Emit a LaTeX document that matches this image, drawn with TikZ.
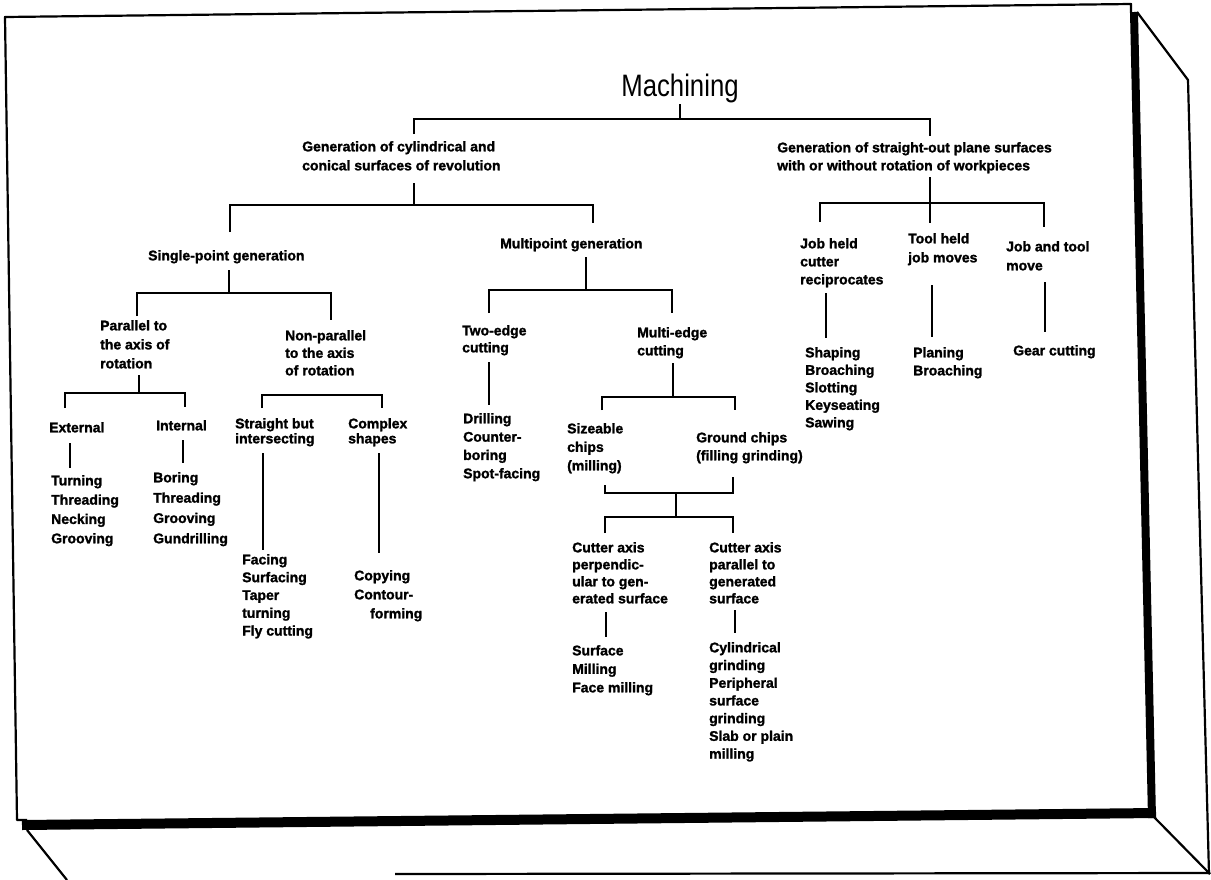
\documentclass[tikz,border=0pt]{standalone}
\usepackage{fontspec}
\setmainfont{Liberation Sans}[BoldFeatures={FakeBold=1.5}]
\begin{document}
\begin{tikzpicture}[x=1pt,y=-1pt,
  lbl/.style={font=\fontsize{14}{#1}\selectfont\bfseries, align=left, inner sep=0pt, anchor=north west},
  lbl/.default=18,
  ln/.style={line width=1.6pt},
  edge/.style={line width=2.2pt, line join=round},
  heavy/.style={line width=#1}]
\useasboundingbox (0,0) rectangle (1211,879);
\fill[white] (0,0) rectangle (1211,879);

% ---------- board frame ----------
\draw[edge] (1131,13) -- (1131,4) -- (5,17) -- (17,820) -- (27,820);
\draw[heavy=8pt] (1134,12) -- (1152,818);
\draw[heavy=10pt] (22,825) -- (1156,813);
\draw[edge] (1137,12) -- (1188,80) -- (1209,874);
\draw[edge] (1153,816) -- (1210,874);
\draw[edge] (27,830) -- (67,880);
\draw[edge] (395,874) -- (1210,873);

% ---------- texts ----------
\node[anchor=base, inner sep=0pt, font=\fontsize{31}{31}\selectfont] (mach) at (680,96) {\scalebox{0.83}[1]{Machining}};

\node[lbl=19] (gen1) at (302,141) {Generation of cylindrical and\\conical surfaces of revolution};
\node[lbl=18] (gen2) at (777,142) {Generation of straight-out plane surfaces\\with or without rotation of workpieces};

\node[lbl] (sp) at (148,250) {Single-point generation};
\node[lbl] (mp) at (500,238) {Multipoint generation};

\node[lbl=19] (par) at (100,320) {Parallel to\\the axis of\\rotation};
\node[lbl=17.5] (np) at (285,330) {Non-parallel\\to the axis\\of rotation};

\node[lbl] (ext) at (49,422) {External};
\node[lbl] (int) at (156,420) {Internal};
\node[lbl=19.3] (extl) at (51,475) {Turning\\Threading\\Necking\\Grooving};
\node[lbl=20.3] (intl) at (153,472) {Boring\\Threading\\Grooving\\Gundrilling};

\node[lbl=15] (st) at (235,418) {Straight but\\intersecting};
\node[lbl=15] (cx) at (348,418) {Complex\\shapes};
\node[lbl=17.8] (stl) at (242,554) {Facing\\Surfacing\\Taper\\turning\\Fly cutting};
\node[lbl=19] (cxl) at (354,570) {Copying\\Contour-\\\hspace*{16pt}forming};

\node[lbl=17] (te) at (462,325) {Two-edge\\cutting};
\node[lbl=18.3] (tel) at (463,413) {Drilling\\Counter-\\boring\\Spot-facing};
\node[lbl=18] (me) at (637,327) {Multi-edge\\cutting};

\node[lbl=18.5] (sz) at (567,423) {Sizeable\\chips\\(milling)};
\node[lbl=18] (gr) at (696,432) {Ground chips\\(filling grinding)};

\node[lbl=17] (cp) at (572,542) {Cutter axis\\perpendic-\\ular to gen-\\erated surface};
\node[lbl=17] (ca) at (709,542) {Cutter axis\\parallel to\\generated\\surface};
\node[lbl=18.5] (cpl) at (572,645) {Surface\\Milling\\Face milling};
\node[lbl=17.7] (cal) at (709,642) {Cylindrical\\grinding\\Peripheral\\surface\\grinding\\Slab or plain\\milling};

\node[lbl=18] (jh) at (800,238) {Job held\\cutter\\reciprocates};
\node[lbl=19] (th) at (908,233) {Tool held\\job moves};
\node[lbl=19] (jt) at (1006,241) {Job and tool\\move};
\node[lbl=17.5] (jhl) at (805,347) {Shaping\\Broaching\\Slotting\\Keyseating\\Sawing};
\node[lbl=18] (thl) at (913,347) {Planing\\Broaching};
\node[lbl] (jtl) at (1013,345) {Gear cutting};

% ---------- connector end points ----------
\coordinate (machS) at (680,104); \coordinate (machB) at (680,119);
\coordinate (gen1N) at (414,134); \coordinate (gen2N) at (930,136);

\coordinate (gen1S) at (414,183); \coordinate (gen1B) at (414,205);
\coordinate (spN) at (230,232);   \coordinate (mpN) at (593,223);

\coordinate (spS) at (229,270);   \coordinate (spB) at (229,293);
\coordinate (parN) at (137,316);  \coordinate (npN) at (331,320);

\coordinate (mpS) at (586,257);   \coordinate (mpB) at (586,290);
\coordinate (teN) at (489,313);   \coordinate (meN) at (672,313);

\coordinate (parS) at (139,375);  \coordinate (parB) at (139,393);
\coordinate (extN) at (65,408);   \coordinate (intN) at (185,407);

\coordinate (npB) at (322,395);
\coordinate (stN) at (262,408);   \coordinate (cxN) at (382,408);

\coordinate (extS) at (70,443);   \coordinate (extE) at (70,468);
\coordinate (intS) at (183,440);  \coordinate (intE) at (183,463);
\coordinate (stS) at (263,453);   \coordinate (stE) at (263,550);
\coordinate (cxS) at (379,453);   \coordinate (cxE) at (379,553);
\coordinate (teS) at (489,362);   \coordinate (teE) at (489,405);

\coordinate (meS) at (673,363);   \coordinate (meB) at (673,397);
\coordinate (szN) at (602,410);   \coordinate (grN) at (735,410);

\coordinate (szS) at (605,485);   \coordinate (grS) at (733,477);
\coordinate (mgB) at (676,493);   \coordinate (mgS) at (676,517);
\coordinate (cpN) at (605,533);   \coordinate (caN) at (733,533);

\coordinate (cpS) at (606,612);   \coordinate (cpE) at (606,637);
\coordinate (caS) at (735,610);   \coordinate (caE) at (735,633);

\coordinate (gen2S) at (930,177); \coordinate (gen2B) at (930,203);
\coordinate (jhN) at (820,222);   \coordinate (thN) at (930,223);
\coordinate (jtN) at (1044,227);

\coordinate (jhS) at (826,293);   \coordinate (jhE) at (826,338);
\coordinate (thS) at (932,285);   \coordinate (thE) at (932,337);
\coordinate (jtS) at (1045,282);  \coordinate (jtE) at (1045,332);

% ---------- connectors ----------
\draw[ln] (machS) -- (machB);
\draw[ln] (gen1N) |- (machB) -| (gen2N);

\draw[ln] (gen1S) -- (gen1B);
\draw[ln] (spN) |- (gen1B) -| (mpN);

\draw[ln] (spS) -- (spB);
\draw[ln] (parN) |- (spB) -| (npN);

\draw[ln] (mpS) -- (mpB);
\draw[ln] (teN) |- (mpB) -| (meN);

\draw[ln] (parS) -- (parB);
\draw[ln] (extN) |- (parB) -| (intN);

\draw[ln] (stN) |- (npB) -| (cxN);

\draw[ln] (extS) -- (extE);
\draw[ln] (intS) -- (intE);
\draw[ln] (stS) -- (stE);
\draw[ln] (cxS) -- (cxE);
\draw[ln] (teS) -- (teE);

\draw[ln] (meS) -- (meB);
\draw[ln] (szN) |- (meB) -| (grN);

\draw[ln] (szS) |- (mgB) -| (grS);
\draw[ln] (mgB) -- (mgS);
\draw[ln] (cpN) |- (mgS) -| (caN);

\draw[ln] (cpS) -- (cpE);
\draw[ln] (caS) -- (caE);

\draw[ln] (gen2S) -- (thN);
\draw[ln] (jhN) |- (gen2B) -| (jtN);

\draw[ln] (jhS) -- (jhE);
\draw[ln] (thS) -- (thE);
\draw[ln] (jtS) -- (jtE);
\end{tikzpicture}
\end{document}
